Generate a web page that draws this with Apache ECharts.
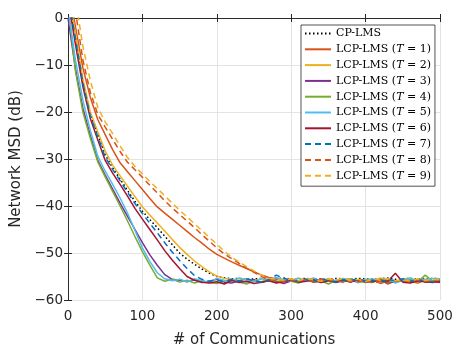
<!DOCTYPE html>
<html><head><meta charset="utf-8">
<script src="https://cdn.jsdelivr.net/npm/echarts@6/dist/echarts.min.js"></script>
<style>html,body{margin:0;padding:0;background:#fff}#c{width:457px;height:347px}</style>
</head><body><div id="c"></div>
<script>
const comms = [0,10,20,30,40,50,60,70,80,90,100,110,120,130,140,150,160,170,180,190,200,210,220,230,240,250,260,270,280,290,300,310,320,330,340,350,360,370,380,390,400,410,420,430,440,450,460,470,480,490,500];
const xTicks = [0,100,200,300,400,500];
const yTicks = [-60,-50,-40,-30,-20,-10,0];

const cpLms = [5,-4.4,-13.6,-20.4,-24.8,-29.1,-31.9,-34.3,-36.7,-39.0,-41.1,-42.9,-44.6,-46.4,-48.2,-50.0,-51.3,-52.4,-53.4,-54.3,-55.0,-55.3,-55.5,-55.4,-55.6,-55.5,-55.4,-55.6,-55.5,-55.3,-55.6,-55.5,-55.4,-55.6,-55.5,-55.7,-55.4,-55.5,-55.6,-55.4,-55.5,-55.6,-55.5,-55.3,-55.6,-55.5,-55.4,-55.6,-55.5,-55.4,-55.5];
const lcpT1 = [7,-1.8,-10.6,-16.9,-21.6,-24.8,-28.0,-30.8,-32.7,-34.6,-36.5,-38.4,-40.2,-41.5,-42.8,-44.1,-45.4,-46.7,-47.9,-49.2,-50.3,-51.1,-51.9,-52.6,-53.3,-54.0,-54.7,-55.2,-55.5,-55.8,-55.6,-56.0,-55.7,-56.2,-55.5,-55.9,-56.1,-55.6,-56.0,-55.8,-56.3,-55.7,-56.5,-55.9,-56.2,-55.6,-56.0,-56.4,-55.8,-56.1,-55.7];
const lcpT2 = [6,-3.3,-12.9,-20.0,-24.2,-28.3,-31.3,-33.6,-35.8,-38.0,-40.2,-41.9,-43.6,-45.3,-47.1,-48.8,-50.3,-51.7,-52.9,-54.0,-54.9,-55.4,-55.6,-55.8,-55.5,-56.0,-55.4,-55.7,-56.1,-55.5,-55.8,-55.3,-56.0,-55.6,-55.9,-55.4,-56.2,-55.7,-55.5,-56.0,-55.6,-55.9,-55.3,-55.8,-56.1,-55.6,-55.4,-55.9,-55.7,-56.2,-55.6];
const lcpT3 = [0,-10.8,-19.2,-25.0,-30.3,-33.4,-36.4,-39.4,-42.2,-45.0,-47.8,-50.4,-52.6,-54.6,-55.6,-55.8,-56.1,-55.7,-56.3,-56.0,-55.6,-56.2,-56.4,-55.9,-56.1,-55.7,-56.3,-55.8,-56.0,-56.5,-55.9,-56.1,-55.6,-56.2,-56.0,-55.8,-56.3,-55.9,-56.1,-55.7,-56.2,-56.0,-55.8,-56.4,-56.1,-55.9,-56.3,-55.7,-56.2,-56.0,-56.3];
const lcpT4 = [3,-11.3,-20.0,-25.6,-30.6,-33.8,-36.9,-40.0,-43.2,-46.5,-49.7,-52.6,-55.3,-56.0,-55.6,-56.2,-55.8,-56.4,-55.9,-56.3,-56.5,-56.0,-55.7,-56.2,-56.6,-55.9,-56.1,-55.6,-56.3,-55.8,-56.0,-56.4,-55.7,-56.1,-55.9,-56.6,-55.8,-56.2,-55.5,-56.3,-56.0,-56.2,-55.6,-56.1,-55.9,-55.9,-55.7,-56.2,-54.7,-56.0,-55.9];
const lcpT5 = [2,-8.9,-17.5,-23.9,-29.4,-32.6,-35.4,-38.3,-41.5,-45.2,-48.9,-51.8,-54.2,-55.5,-55.9,-55.6,-56.1,-55.5,-55.9,-56.2,-55.4,-55.8,-56.0,-55.3,-55.7,-56.1,-55.5,-55.9,-55.2,-55.7,-56.0,-55.4,-55.8,-55.3,-56.1,-55.6,-55.9,-55.4,-55.8,-56.3,-55.7,-55.5,-56.0,-55.4,-56.4,-55.8,-55.3,-55.9,-55.6,-55.4,-55.5];
const lcpT6 = [4,-5.6,-14.6,-21.4,-25.9,-30.3,-33.0,-35.4,-37.9,-40.5,-42.8,-45.0,-47.2,-49.5,-51.5,-53.3,-55.0,-55.8,-56.2,-56.4,-56.1,-56.6,-55.8,-56.3,-56.0,-56.5,-56.2,-55.9,-56.4,-56.1,-55.8,-56.2,-56.0,-55.7,-56.3,-55.9,-56.1,-55.8,-56.2,-55.7,-56.0,-56.1,-55.8,-56.0,-54.3,-56.2,-56.4,-55.9,-56.1,-56.3,-56.0];
const lcpT7 = [5,-4.4,-13.8,-20.9,-25.2,-29.6,-32.2,-34.6,-37.1,-39.5,-41.6,-43.7,-45.7,-47.8,-49.8,-51.6,-53.3,-54.8,-55.6,-56.0,-55.8,-56.1,-55.6,-56.0,-55.5,-55.9,-56.2,-55.7,-54.7,-55.4,-55.8,-56.1,-55.6,-56.0,-55.5,-55.9,-56.2,-55.7,-55.9,-55.4,-56.0,-55.8,-56.1,-55.6,-55.9,-55.5,-56.0,-55.7,-55.9,-56.2,-55.8];
const lcpT8 = [8,1.5,-8.9,-15.8,-20.5,-23.2,-25.8,-28.4,-30.7,-32.3,-33.9,-35.6,-37.2,-38.9,-40.4,-41.8,-43.2,-44.6,-46.1,-47.5,-48.9,-50.2,-51.2,-52.2,-53.2,-54.1,-55.0,-55.6,-55.8,-56.1,-55.7,-56.0,-55.5,-56.2,-55.8,-56.0,-55.6,-56.3,-55.9,-56.1,-55.7,-56.4,-55.9,-56.6,-56.0,-55.8,-56.2,-55.7,-56.0,-55.9,-55.8];
const lcpT9 = [9,4.0,-6.0,-13.3,-19.0,-22.1,-24.6,-27.2,-29.7,-31.6,-33.2,-34.8,-36.3,-37.8,-39.4,-40.9,-42.3,-43.8,-45.2,-46.7,-48.1,-49.6,-50.9,-51.9,-52.9,-53.8,-54.7,-55.4,-55.6,-55.8,-55.5,-55.9,-55.4,-55.7,-56.0,-55.5,-55.8,-55.3,-55.9,-55.6,-56.1,-55.5,-55.8,-55.4,-55.9,-55.7,-56.0,-55.5,-55.8,-55.6,-55.7];

const seriesNames = ['CP-LMS','LCP-LMS (T = 1)','LCP-LMS (T = 2)','LCP-LMS (T = 3)','LCP-LMS (T = 4)','LCP-LMS (T = 5)','LCP-LMS (T = 6)','LCP-LMS (T = 7)','LCP-LMS (T = 8)','LCP-LMS (T = 9)'];
const seriesValues = [cpLms,lcpT1,lcpT2,lcpT3,lcpT4,lcpT5,lcpT6,lcpT7,lcpT8,lcpT9];
const seriesColors = ['#000000','#D95319','#EDB120','#7E2F8E','#77AC30','#4DBEEE','#A2142F','#0072BD','#D95319','#EDB120'];
const seriesDash = [[1.5,2.5],'solid','solid','solid','solid','solid','solid',[6,4],[6,4],[6,4]];

const chart = echarts.init(document.getElementById('c'), null, {renderer:'canvas'});
const axisColor = '#262626';
const fmtMinus = v => String(v).replace('-', '\u2212');
const series = seriesNames.map((n,i)=>({
  name:n, type:'line', symbol:'none', clip:true, animation:false,
  data: comms.map((x,j)=>[x, seriesValues[i][j]]),
  lineStyle:{color:seriesColors[i], width:1.5, type:seriesDash[i]},
  itemStyle:{color:seriesColors[i]}, z: 2+i
}));
chart.setOption({
  animation:false,
  grid:{left:68, right:17, top:18, bottom:47, containLabel:false, outerBoundsMode:'none'},
  legend:{
    orient:'vertical', left:301, top:25, padding:[3,4,5,3],
    itemWidth:26, itemHeight:10, itemGap:4.8,
    backgroundColor:'#fff', borderColor:'#262626', borderWidth:0.8,
    itemStyle:{opacity:0, borderWidth:0},
    data: seriesNames,
    textStyle:{fontFamily:'DejaVu Serif', fontSize:11, color:'#000',
      rich:{i:{fontFamily:'DejaVu Serif', fontStyle:'italic', fontSize:11, color:'#000'}}},
    formatter: n => n.replace('T', '{i|T}')
  },
  xAxis:[{
    type:'value', min:0, max:500, interval:100,
    name:'# of Communications', nameLocation:'middle', nameGap:33,
    nameTextStyle:{fontFamily:'DejaVu Sans', fontSize:15, color:axisColor},
    axisLine:{show:true, lineStyle:{color:axisColor, width:0.8}},
    axisTick:{show:true, inside:true, length:4, lineStyle:{color:axisColor}},
    axisLabel:{fontFamily:'DejaVu Sans', fontSize:13.5, color:axisColor, margin:9},
    splitLine:{show:true, lineStyle:{color:'#e3e3e3', width:1}}
  },{
    type:'value', position:'top', min:0, max:500, interval:100,
    axisLine:{show:true, lineStyle:{color:axisColor, width:0.8}},
    axisTick:{show:true, inside:true, length:4, lineStyle:{color:axisColor}},
    axisLabel:{show:false}, splitLine:{show:false}
  }],
  yAxis:[{
    type:'value', min:-60, max:0, interval:10,
    name:'Network MSD (dB)', nameLocation:'middle', nameGap:37, nameRotate:90,
    nameTextStyle:{fontFamily:'DejaVu Sans', fontSize:15, color:axisColor},
    axisLine:{show:true, lineStyle:{color:axisColor, width:0.8}},
    axisTick:{show:true, inside:true, length:4, lineStyle:{color:axisColor}},
    axisLabel:{fontFamily:'DejaVu Sans', fontSize:13.5, color:axisColor, margin:5, formatter:fmtMinus},
    splitLine:{show:true, lineStyle:{color:'#e3e3e3', width:1}}
  },{
    type:'value', position:'right', min:-60, max:0, interval:10,
    axisLine:{show:true, lineStyle:{color:axisColor, width:0.8}},
    axisTick:{show:true, inside:true, length:4, lineStyle:{color:axisColor}},
    axisLabel:{show:false}, splitLine:{show:false}
  }],
  series: series
});
</script></body></html>
